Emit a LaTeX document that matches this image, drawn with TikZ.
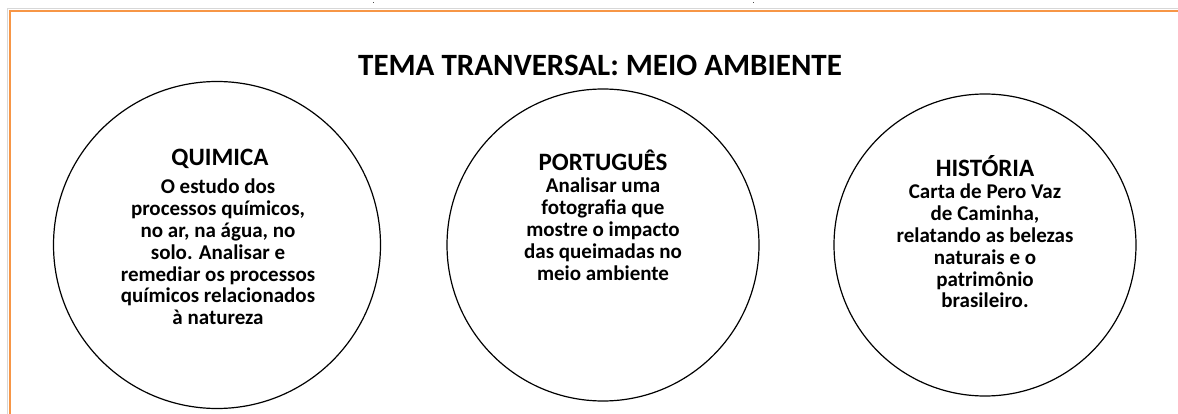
\documentclass[tikz,border=0pt]{standalone}
\usepackage{fontspec}
\setmainfont{Carlito}
\definecolor{frameorange}{RGB}{247,150,70}
\definecolor{shadowgray}{RGB}{215,215,215}
\tikzset{
  bubble/.style={circle, draw=black, line width=1.2pt, inner sep=0pt},
  headtxt/.style={anchor=base, inner sep=0pt, font=\bfseries\fontsize{25}{29}\selectfont},
  bodytxt/.style={anchor=base, inner sep=0pt},
  titletxt/.style={anchor=base, inner sep=0pt, font=\bfseries\fontsize{31}{36}\selectfont}
}
\newcommand{\bodyblock}[2]{\parbox[t]{#1}{\centering\bfseries\fontsize{21}{21.8}\selectfont #2}}
\begin{document}
\begin{tikzpicture}[x=1pt,y=-1pt]
\useasboundingbox (0,0) rectangle (1178,414);
% frame
\coordinate (fa) at (7.5,414);
\coordinate (fb) at (7.5,9);
\coordinate (fc) at (1178,9);
\draw[shadowgray, line width=1pt] (fa) -- (fb) -- (fc);
\coordinate (ga) at (9.5,414);
\coordinate (gb) at (9.5,11);
\coordinate (gc) at (1178,11);
\draw[frameorange, line width=2pt] (ga) -- (gb) -- (gc);
\fill[black!70] (372.5,2) rectangle (374,3.5);
\fill[black!70] (752.5,2) rectangle (754,3.5);
% title
\node[titletxt] (title) at (600,76) {TEMA TRANVERSAL: MEIO AMBIENTE};
% circles
\node[bubble, minimum size=327pt] (c1) at (217,245) {};
\node[bubble, minimum size=312pt] (c2) at (603,245) {};
\node[bubble, minimum size=302pt] (c3) at (985,245) {};
% texts
\node[headtxt] (h1) at (220,166) {QUIMICA};
\node[bodytxt] (b1) at (218,194) {\bodyblock{240pt}{O estudo dos\\processos químicos,\\no ar, na água, no\\solo. Analisar e\\remediar os processos\\químicos relacionados\\à natureza}};
\node[headtxt] (h2) at (603,171) {PORTUGUÊS};
\node[bodytxt] (b2) at (603,193) {\bodyblock{240pt}{Analisar uma\\fotografia que\\mostre o impacto\\das queimadas no\\meio ambiente}};
\node[headtxt] (h3) at (985,177) {HISTÓRIA};
\node[bodytxt] (b3) at (985,199) {\bodyblock{240pt}{Carta de Pero Vaz\\de Caminha,\\relatando as belezas\\naturais e o\\patrimônio\\brasileiro.}};
\end{tikzpicture}
\end{document}
